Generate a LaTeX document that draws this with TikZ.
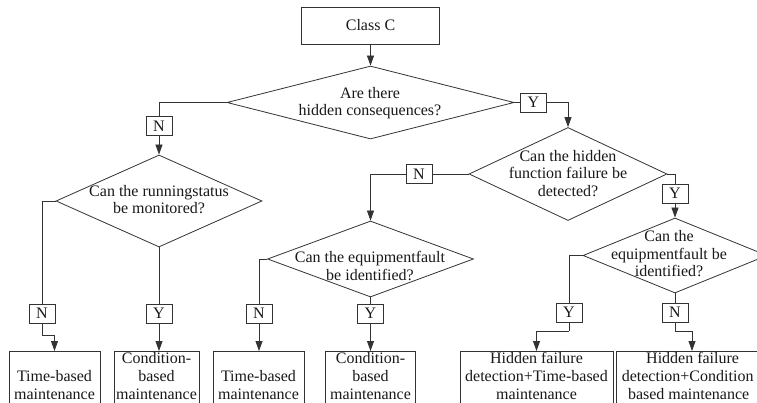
\documentclass[tikz,border=0pt]{standalone}
\usepackage{fontspec}
\setmainfont{Liberation Serif}
\usetikzlibrary{arrows.meta,shapes.geometric}
\begin{document}
\begin{tikzpicture}[x=1pt,y=-1pt,
  every node/.style={font=\fontsize{16}{17.5}\selectfont, text=black!90},
  line/.style={draw=black!80, line width=0.8pt},
  arr/.style={line, -{Triangle[length=10pt,width=7pt]}},
  procbox/.style={draw=black!80, line width=0.8pt, rectangle, inner sep=0pt, align=center},
  resbox/.style={draw=black!80, line width=0.8pt, rectangle, inner sep=0pt, anchor=north, minimum height=60pt},
  restext/.style={align=center, inner sep=0pt, anchor=north, font=\fontsize{16}{18}\selectfont},
  decision/.style={draw=black!80, line width=0.8pt, diamond, inner sep=0pt},
  yn/.style={draw=black!80, line width=0.8pt, rectangle, inner sep=0pt, minimum width=26pt, minimum height=19pt},
  qtext/.style={align=center, inner sep=0pt}
]
\fill[white] (0,0) rectangle (757,403);
\useasboundingbox (0,0) rectangle (757,403);
\clip (0,0) rectangle (757,403);

% top box
\node[procbox, minimum width=138pt, minimum height=37pt] (cls) at (370.5,25.5) {Class C};

% decisions
\node[decision, minimum width=287pt, minimum height=73pt] (d1) at (370.5,102.5) {};
\node[qtext] (d1t) at (370,103) {Are there\\hidden consequences?};

\node[decision, minimum width=206pt, minimum height=92pt] (d2) at (159,201) {};
\node[qtext] (d2t) at (159,199.5) {Can the runningstatus\\be monitored?};

\node[decision, minimum width=198pt, minimum height=93pt] (d3) at (568,174) {};
\node[qtext] (d3t) at (568,173.5) {Can the hidden\\function failure be\\detected?};

\node[decision, minimum width=206pt, minimum height=76pt] (d4) at (370.5,259) {};
\node[qtext] (d4t) at (370,266) {Can the equipmentfault\\be identified?};

\node[decision, minimum width=184pt, minimum height=75pt] (d5) at (675,255.5) {};
\node[qtext] (d5t) at (669,254) {Can the\\equipmentfault be\\identified?};

% Y/N labels
\node[yn] (l1) at (159,126) {N};
\node[yn] (l2) at (533.5,102.5) {Y};
\node[yn] (l3) at (419,174) {N};
\node[yn] (l4) at (675,193.5) {Y};
\node[yn] (l5) at (42,313.5) {N};
\node[yn] (l6) at (159,313.5) {Y};
\node[yn] (l7) at (259,313.5) {N};
\node[yn] (l8) at (370.5,313.5) {Y};
\node[yn] (l9) at (569,312.5) {Y};
\node[yn] (l10) at (675,312.5) {N};

% result boxes (cut by the lower edge, as in the reference)
\node[resbox, minimum width=91pt] (b1) at (54.5,351) {};
\node[resbox, minimum width=85pt] (b2) at (156.5,351) {};
\node[resbox, minimum width=91pt] (b3) at (258.5,351) {};
\node[resbox, minimum width=90pt] (b4) at (370.5,351) {};
\node[resbox, minimum width=153pt] (b5) at (536.5,351) {};
\node[resbox, minimum width=152pt] (b6) at (692,351) {};

\node[restext] (b1t) at ([yshift=-19pt]b1.north) {Time-based\\maintenance};
\node[restext] (b2t) at ([yshift=-1pt]b2.north) {Condition-\\based\\maintenance};
\node[restext] (b3t) at ([yshift=-19pt]b3.north) {Time-based\\maintenance};
\node[restext] (b4t) at ([yshift=-1pt]b4.north) {Condition-\\based\\maintenance};
\node[restext] (b5t) at ([yshift=-1pt]b5.north) {Hidden failure\\detection+Time-based\\maintenance};
\node[restext, anchor=north west] (b6t) at ([xshift=6pt,yshift=-1pt]b6.north west) {\hspace*{10pt}Hidden failure\\detection+Condition\\\hspace*{2pt}based maintenance};

% bend points
\coordinate (j1) at (42,335);
\coordinate (j2) at (569,331);
\coordinate (j3) at (675,331);

% connectors
\draw[arr] (cls.south) -- (d1.north);
\draw[line] (d1.west) -| (l1.north);
\draw[arr] (l1.south) -- (d2.north);
\draw[line] (d1.east) -- (l2.west);
\draw[arr] (l2.east) -| (d3.north);
\draw[line] (d3.west) -- (l3.east);
\draw[arr] (l3.west) -| (d4.north);
\draw[line] (d3.east) -| (l4.north);
\draw[arr] (l4.south) -- (d5.north);

\draw[line] (d2.west) -| (l5.north);
\draw[line] (l5.south) -- (j1);
\draw[arr] (j1) -| (b1.north);
\draw[line] (d2.south) -- (l6.north);
\draw[arr] (l6.south) -- (l6.south |- b2.north);

\draw[line] (d4.west) -| (l7.north);
\draw[arr] (l7.south) -- (l7.south |- b3.north);
\draw[line] (d4.south) -- (l8.north);
\draw[arr] (l8.south) -- (l8.south |- b4.north);

\draw[line] (d5.west) -| (l9.north);
\draw[line] (l9.south) -- (j2);
\draw[arr] (j2) -| (b5.north);
\draw[line] (d5.south) -- (l10.north);
\draw[line] (l10.south) -- (j3);
\draw[arr] (j3) -| (b6.north);
\end{tikzpicture}
\end{document}
